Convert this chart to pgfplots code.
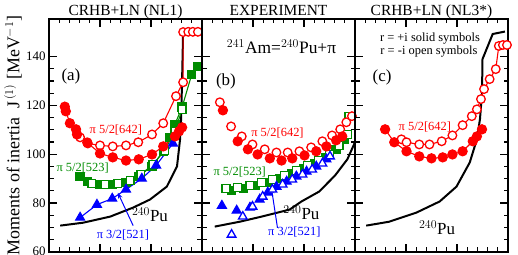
\documentclass[border=0pt]{standalone}
\usepackage{fontspec}
\setmainfont{Liberation Serif}
\usepackage{pgfplots}
\pgfplotsset{compat=1.18}
\usetikzlibrary{arrows.meta}
\definecolor{mygreen}{RGB}{0,140,0}
\pgfplotsset{
 panel/.style={
  scale only axis, width=153bp, height=232.8bp, anchor=south west,
  xmin=0, xmax=0.3, ymin=60, ymax=155.5,
  xtick={0,0.1,0.2,0.3}, minor x tick num=4,
  ytick={60,80,100,120,140}, minor y tick num=3,
  xticklabels={}, tick align=inside,
  major tick length=8bp, minor tick length=4.5bp,
  every tick/.append style={line width=1.2bp, black},
  axis line style={line width=1.8bp},
  clip=false,
  tick label style={font=\fontsize{13}{15}\selectfont},
  /pgf/number format/assume math mode=true,
 },
 rf/.style={red, line width=1.1bp, mark=*, mark size=4.6bp, mark options={fill=red, solid}},
 ro/.style={red, line width=1.1bp, mark=*, mark size=4.3bp, mark options={fill=white, line width=1.3bp}},
 gf/.style={mygreen, line width=1.1bp, mark=square*, mark size=4.1bp, mark options={fill=mygreen}},
 go/.style={mygreen, line width=1.1bp, mark=square*, mark size=3.9bp, mark options={fill=white, line width=1.3bp}},
 bf/.style={blue, line width=1.1bp, mark=triangle*, mark size=5.2bp, mark options={fill=blue}},
 bo/.style={blue, line width=1.1bp, mark=triangle*, mark size=5bp, mark options={fill=white, line width=1.3bp}},
 pu/.style={black, line width=2bp, no marks},
}
\tikzset{
 lab/.style={font=\fontsize{12.5}{14}\selectfont},
 big/.style={font=\fontsize{17}{19}\selectfont},
 ttl/.style={font=\fontsize{15.5}{18}\selectfont, anchor=base, yshift=3.4bp},
}
\begin{document}
\begin{tikzpicture}
% ---------------- panel (a)
\begin{axis}[panel, at={(49bp,3.3bp)},
  ylabel={Moments of inertia~~J$^{\,(1)}$ [MeV$^{-1}$]},
  ylabel style={at={(axis description cs:-0.235,0.5)}, anchor=center, font=\fontsize{18}{20}\selectfont}]
\addplot[pu] coordinates {(0.022,70.7)(0.067,71.9)(0.12,74.4)(0.165,78.1)(0.198,81.4)(0.231,86.7)(0.251,95.0)(0.257,106.1)(0.259,114.3)(0.261,130.8)(0.263,150.5)(0.296,150.7)};
\addplot[gf] coordinates {(0.061,90.9)(0.076,88.8)(0.100,87.6)(0.125,87.6)(0.151,88.4)(0.175,90.9)(0.202,95.0)(0.224,101.2)(0.237,106.9)(0.247,112.3)(0.261,119.3)(0.280,132.8)(0.292,136.1)};
\addplot[go] coordinates {(0.084,88.0)(0.110,87.6)(0.135,88.0)(0.159,89.2)(0.180,91.7)(0.204,95.8)(0.227,101.6)(0.247,109.4)(0.261,118.4)};
\addplot[bf] coordinates {(0.061,74.0)(0.094,79.3)(0.124,81.8)(0.151,85.5)(0.182,90.0)(0.210,95.4)(0.243,104.4)};
\addplot[ro] coordinates {(0.061,106.9)(0.076,104.4)(0.100,103.6)(0.125,103.2)(0.151,103.6)(0.175,104.9)(0.202,108.1)(0.224,112.7)(0.249,123.8)(0.263,129.5)(0.263,150.1)(0.273,150.2)(0.282,150.2)(0.292,150.2)};
\addplot[rf] coordinates {(0.031,119.5)(0.033,117.6)(0.041,112.7)(0.053,110.2)(0.055,108.1)(0.075,104.8)(0.100,100.3)(0.125,98.7)(0.151,97.4)(0.176,97.9)(0.202,99.9)(0.224,103.2)(0.247,107.3)(0.255,109.4)(0.261,111.0)};
\node[big] at (axis cs:0.043,131.8) {(a)};
\node[lab, red] at (axis cs:0.131,110) {π 5/2[642]};
\node[lab, mygreen] at (axis cs:0.066,94.5) {π 5/2[523]};
\node[big] at (axis cs:0.198,75.2) {$^{240}$Pu};
\node[lab, blue] at (axis cs:0.145,67) {π 3/2[521]};
\draw[blue, line width=1bp, -{Stealth[length=6bp]}] (axis cs:0.165,70.7) -- (axis cs:0.135,84.2);
\node[ttl] at (axis description cs:0.5,1) {CRHB+LN (NL1)};
\end{axis}
% ---------------- panel (b)
\begin{axis}[panel, at={(202bp,3.3bp)}, yticklabels={}]
\addplot[pu] coordinates {(0.025,70.3)(0.074,72.3)(0.117,74.4)(0.172,77.3)(0.195,80.6)(0.230,84.7)(0.261,91.3)(0.285,97.9)(0.300,104.9)};
\addplot[gf, only marks] coordinates {(0.058,85.1)(0.082,85.9)(0.105,87.2)(0.129,88.4)(0.152,90.0)(0.175,92.1)(0.199,94.2)(0.220,96.2)(0.242,98.7)(0.263,102.0)(0.279,106.1)};
\addplot[go, only marks] coordinates {(0.047,85.9)(0.070,86.3)(0.094,87.2)(0.117,88.4)(0.138,89.6)(0.162,91.3)(0.185,93.3)(0.207,95.4)(0.228,97.4)(0.250,99.9)(0.269,103.6)(0.285,108.1)(0.288,115.5)};
\addplot[bf, only marks] coordinates {(0.039,78.9)(0.068,76.9)(0.094,78.1)(0.113,81.4)(0.129,84.3)(0.146,86.7)(0.166,88.8)(0.185,90.9)(0.205,92.9)(0.224,95.0)(0.244,97.9)};
\addplot[bo, only marks] coordinates {(0.058,67.0)(0.080,74.4)(0.099,78.5)(0.119,82.6)(0.138,85.5)(0.158,87.6)(0.177,89.6)(0.197,91.7)(0.216,93.7)(0.236,96.2)(0.251,99.1)};
\addplot[ro, only marks] coordinates {(0.035,121.3)(0.057,111.4)(0.078,107.3)(0.099,104.0)(0.123,102.0)(0.146,100.7)(0.168,100.7)(0.191,101.2)(0.214,102.8)(0.236,105.3)(0.255,107.7)(0.271,110.2)(0.283,113.1)(0.294,115.6)};
\addplot[rf, only marks] coordinates {(0.041,118.0)(0.070,105.3)(0.090,102.0)(0.109,99.9)(0.133,98.3)(0.156,97.4)(0.177,98.3)(0.201,99.5)(0.224,101.2)(0.244,103.2)(0.263,105.7)(0.275,107.3)};
\node[big] at (axis cs:0.047,129.7) {(b)};
\node[font=\fontsize{17.5}{19}\selectfont] at (axis cs:0.156,144.1) {$^{241}$Am=$^{240}$Pu+π};
\node[lab, red] at (axis cs:0.148,108.8) {π 5/2[642]};
\node[lab, mygreen] at (axis cs:0.074,92.8) {π 5/2[523]};
\node[big] at (axis cs:0.195,76) {$^{240}$Pu};
\node[lab, blue] at (axis cs:0.181,68.2) {π 3/2[521]};
\draw[blue, line width=1bp, -{Stealth[length=6bp]}] (axis cs:0.148,69.8) -- (axis cs:0.136,86.3);
\node[ttl] at (axis description cs:0.5,1) {EXPERIMENT};
\end{axis}
% ---------------- panel (c)
\begin{axis}[panel, at={(355bp,3.3bp)}, yticklabels={}]
\addplot[pu] coordinates {(0.022,70.7)(0.067,72.3)(0.120,76.0)(0.166,80.6)(0.199,86.7)(0.225,96.6)(0.239,106.1)(0.245,114.3)(0.249,124.6)(0.250,139.0)(0.270,149.3)(0.294,150.3)};
\addplot[ro] coordinates {(0.091,106.1)(0.101,104.9)(0.126,104.0)(0.146,104.0)(0.170,105.3)(0.191,107.7)(0.211,111.9)(0.229,115.6)(0.239,118.4)(0.247,122.6)(0.253,126.7)(0.264,130.8)(0.276,134.9)(0.282,144.4)(0.290,144.8)(0.298,144.8)};
\addplot[rf] coordinates {(0.059,110.2)(0.077,104.9)(0.101,101.2)(0.126,99.1)(0.150,98.3)(0.172,98.7)(0.191,99.9)(0.211,101.2)(0.231,105.3)(0.239,107.3)(0.249,110.2)};
\node[lab] at (axis cs:0.147,147.4) {r = +i solid symbols};
\node[lab] at (axis cs:0.145,142.1) {r = -i open symbols};
\node[big] at (axis cs:0.053,131.4) {(c)};
\node[lab, red] at (axis cs:0.137,111.3) {π 5/2[642]};
\node[big] at (axis cs:0.161,69.8) {$^{240}$Pu};
\node[ttl] at (axis description cs:0.5,1) {CRHB+LN (NL3*)};
\end{axis}
\pgfresetboundingbox
\path[use as bounding box] (0,0) rectangle (518bp,255bp);
\end{tikzpicture}
\end{document}
